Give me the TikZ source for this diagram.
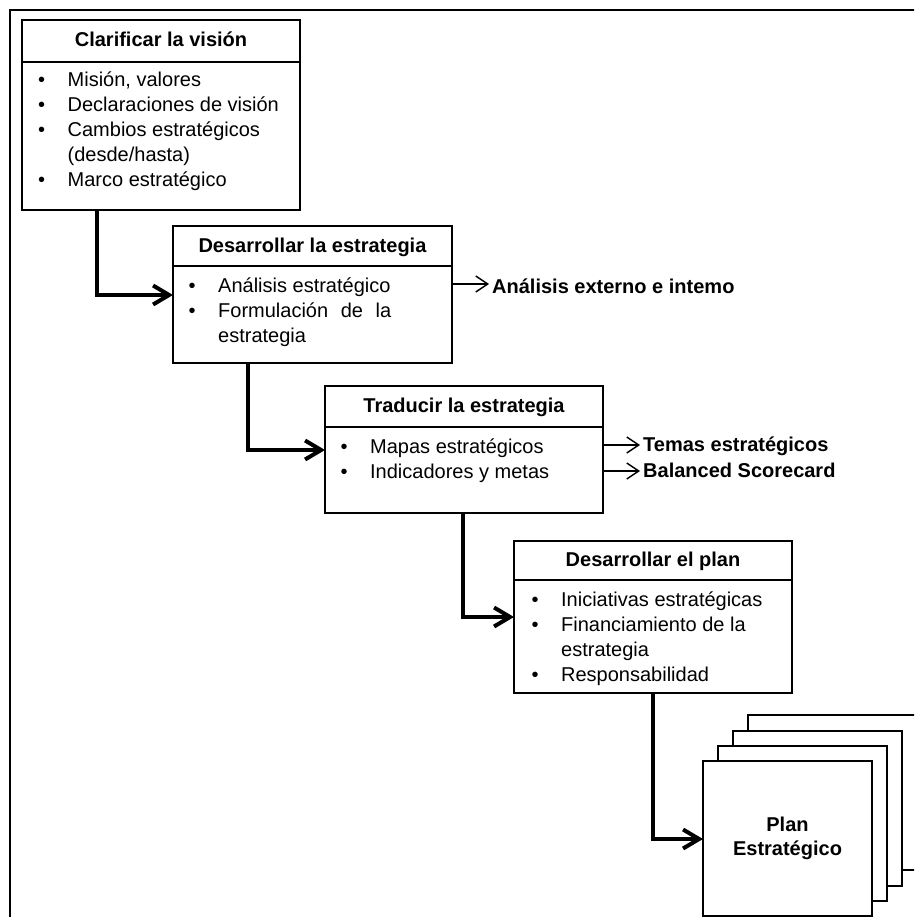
\documentclass[tikz,border=0pt]{standalone}
\usepackage{fontspec}
\setmainfont{Liberation Sans}
\usetikzlibrary{arrows.meta}

\tikzset{
  boxline/.style={draw, line width=1.7pt, outer sep=0pt, inner sep=0pt, anchor=north west},
  hdr/.style={boxline, font=\fontsize{20}{25}\selectfont\bfseries,
              text height=15pt, text depth=3pt, align=center},
  bodybox/.style={boxline},
  bodytext/.style={anchor=base west, inner sep=0pt, font=\fontsize{20}{25}\selectfont},
  outtext/.style={anchor=base west, inner xsep=3pt, inner ysep=0pt,
                  font=\fontsize{20}{25}\selectfont\bfseries},
  flow/.style={line width=4pt, -{Straight Barb[length=16pt,width=19pt]}},
  outarrow/.style={line width=1.4pt, -{Straight Barb[length=12pt,width=16pt]}},
  sheet/.style={boxline, fill=white, minimum width=169pt, minimum height=155pt},
}

\newcommand{\bulletlist}[1]{%
  \begin{tabular}[t]{@{}p{29.5pt}@{}l@{}}#1\end{tabular}}

\begin{document}
\begin{tikzpicture}[x=1pt,y=-1pt]
  \clip (0,0) rectangle (914,917);
  \fill[white] (0,0) rectangle (914,917);

  % outer frame
  \draw[line width=1.2pt] (10,940) -- (10,10) -- (940,10);

  % step 1
  \node[hdr, minimum width=278pt, minimum height=42pt] (h1) at (22,20) {Clarificar la visión};
  \node[bodybox, minimum width=278pt, minimum height=148pt] (b1) at (h1.south west) {};
  \node[bodytext] (t1) at (38,87) {\bulletlist{%
    • & Misión, valores\\
    • & Declaraciones de visión\\
    • & Cambios estratégicos\\
      & (desde/hasta)\\
    • & Marco estratégico}};

  % step 2
  \node[hdr, minimum width=279pt, minimum height=40pt] (h2) at (173,226) {Desarrollar la estrategia};
  \node[bodybox, minimum width=279pt, minimum height=97pt] (b2) at (h2.south west) {};
  \node[bodytext] (t2) at (188.5,292) {\bulletlist{%
    • & Análisis estratégico\\
    • & \makebox[173pt][s]{Formulación de la}\\
      & estrategia}};

  % step 3
  \node[hdr, minimum width=278pt, minimum height=41pt] (h3) at (325,386) {Traducir la estrategia};
  \node[bodybox, minimum width=278pt, minimum height=86pt] (b3) at (h3.south west) {};
  \node[bodytext] (t3) at (340.5,453) {\bulletlist{%
    • & Mapas estratégicos\\
    • & Indicadores y metas}};

  % step 4
  \node[hdr, minimum width=278pt, minimum height=39pt] (h4) at (514,541) {Desarrollar el plan};
  \node[bodybox, minimum width=278pt, minimum height=113pt] (b4) at (h4.south west) {};
  \node[bodytext] (t4) at (531.5,606) {\bulletlist{%
    • & Iniciativas estratégicas\\
    • & Financiamiento de la\\
      & estrategia\\
    • & Responsabilidad}};

  % stacked plan sheets, back to front
  \node[sheet] (page4) at (748,715) {};
  \node[sheet] (page3) at (733,731) {};
  \node[sheet] (page2) at (718,746) {};
  \node[sheet, align=center, font=\fontsize{20}{24}\selectfont\bfseries] (plan) at (703,761)
    {Plan\\Estratégico};

  % outputs
  \node[outtext] (ext) at (489,293) {Análisis externo e intemo};
  \node[outtext] (tem) at (640,451) {Temas estratégicos};
  \node[outtext] (bsc) at (640,477) {Balanced Scorecard};
  \coordinate (m1) at (0,284);
  \coordinate (m2) at (0,445);
  \coordinate (m3) at (0,471);
  \draw[outarrow] (b2.east |- m1) -- (ext.west |- m1);
  \draw[outarrow] (b3.east |- m2) -- (tem.west |- m2);
  \draw[outarrow] (b3.east |- m3) -- (bsc.west |- m3);

  % flow between steps
  \coordinate (k1) at (97,295);
  \coordinate (k2) at (248,450);
  \coordinate (k3) at (463,617);
  \coordinate (k4) at (653,839);
  \draw[flow] (b1.south -| k1) |- (b2.west |- k1);
  \draw[flow] (b2.south -| k2) |- (b3.west |- k2);
  \draw[flow] (b3.south -| k3) |- (b4.west |- k3);
  \draw[flow] (b4.south -| k4) |- (plan.west |- k4);
\end{tikzpicture}
\end{document}
